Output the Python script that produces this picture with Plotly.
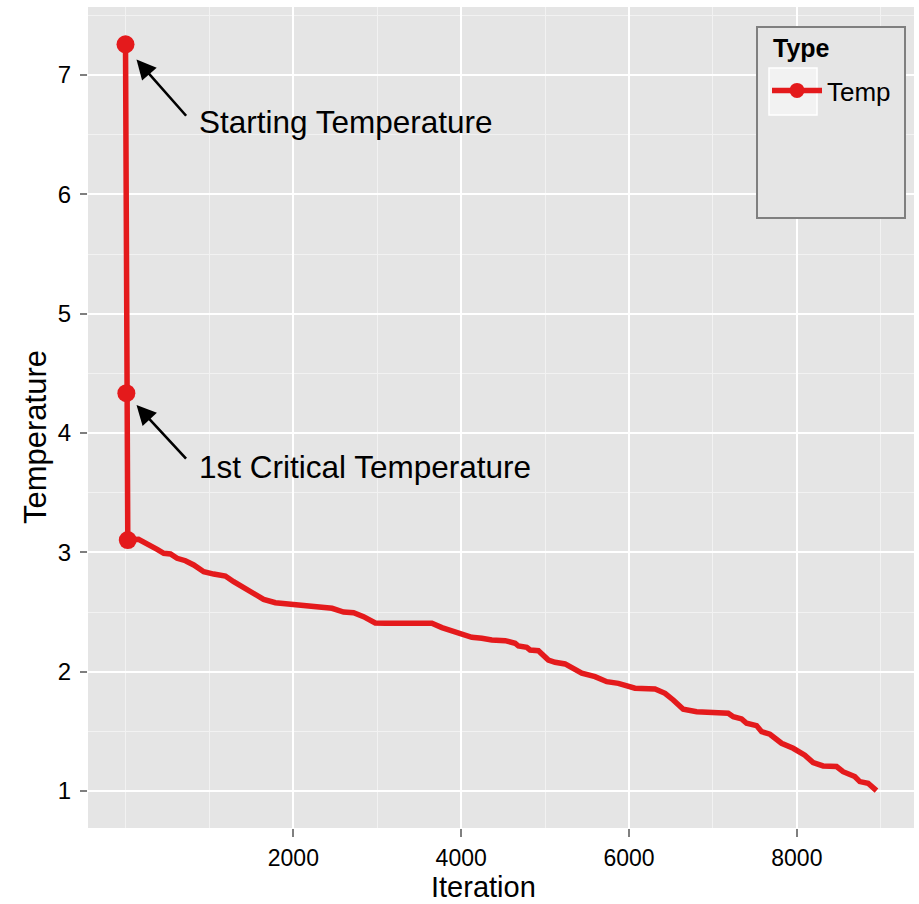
import plotly.graph_objects as go

# Temperature schedule over the annealing run
iteration = [0, 10, 27, 155, 298, 377, 456, 536, 615, 714, 813, 932, 1051, 1190,
             1289, 1429, 1548, 1646, 1786, 1925, 2143, 2461, 2599, 2718, 2837,
             2976, 3095, 3651, 3770, 3929, 4127, 4246, 4365, 4524, 4643, 4682,
             4782, 4821, 4920, 5039, 5119, 5238, 5337, 5437, 5595, 5735, 5873,
             6071, 6310, 6429, 6527, 6646, 6806, 7182, 7242, 7342, 7401, 7520,
             7580, 7679, 7818, 7956, 8095, 8194, 8313, 8473, 8551, 8611, 8690,
             8750, 8849, 8949]
temperature = [7.257, 4.334, 3.103, 3.109, 3.047, 3.025, 2.992, 2.986, 2.950,
               2.930, 2.894, 2.838, 2.818, 2.801, 2.754, 2.698, 2.642, 2.606,
               2.578, 2.567, 2.553, 2.531, 2.500, 2.494, 2.461, 2.408, 2.406,
               2.406, 2.369, 2.330, 2.288, 2.280, 2.265, 2.260, 2.238, 2.215,
               2.204, 2.182, 2.176, 2.098, 2.079, 2.065, 2.020, 1.987, 1.958,
               1.916, 1.902, 1.861, 1.855, 1.819, 1.763, 1.685, 1.665, 1.652,
               1.623, 1.604, 1.568, 1.548, 1.497, 1.476, 1.400, 1.358, 1.300,
               1.238, 1.210, 1.205, 1.162, 1.141, 1.121, 1.079, 1.065, 1.003]

# Highlighted points: start, first critical temperature, end of the drop
key_iteration = [0, 10, 27]
key_temperature = [7.257, 4.334, 3.103]

x_ticks = [2000, 4000, 6000, 8000]
x_minor = [0, 1000, 3000, 5000, 7000, 9000]
y_ticks = [1, 2, 3, 4, 5, 6, 7]
y_minor = [1.5, 2.5, 3.5, 4.5, 5.5, 6.5, 7.5]

RED = "#e41a1c"
FONT = "Liberation Sans, Arial, Helvetica, sans-serif"

W, H = 919, 904
ML, MR, MT, MB = 88, 5, 7, 76
pw, ph = W - ML - MR, H - MT - MB


def px_x(p):
    return (p - ML) / pw


def px_y(p):
    return (H - MB - p) / ph


fig = go.Figure()
fig.add_trace(go.Scatter(x=iteration, y=temperature, mode="lines",
                         line=dict(color=RED, width=5.5), showlegend=False,
                         hoverinfo="skip"))
fig.add_trace(go.Scatter(x=key_iteration, y=key_temperature, mode="markers",
                         marker=dict(color=RED, size=18), showlegend=False))
fig.add_trace(go.Scatter(x=[None], y=[None], mode="lines+markers", name="Temp",
                         line=dict(color=RED, width=5.5),
                         marker=dict(color=RED, size=15)))

# Arrows and labels
arrows = [
    dict(head=(131, 7.13), tail=(738, 6.646)),
    dict(head=(131, 4.234), tail=(738, 3.773)),
]
for a in arrows:
    fig.add_annotation(x=a["head"][0], y=a["head"][1], ax=a["tail"][0], ay=a["tail"][1],
                       xref="x", yref="y", axref="x", ayref="y", text="",
                       showarrow=True, arrowhead=2, arrowsize=1.5, arrowwidth=2.6,
                       arrowcolor="black")
labels = [("Starting Temperature", 857, 6.604), ("1st Critical Temperature", 857, 3.714)]
for txt, lx, ly in labels:
    fig.add_annotation(x=lx, y=ly, xref="x", yref="y", text=txt, showarrow=False,
                       xanchor="left", yanchor="middle",
                       font=dict(family=FONT, size=31.5, color="black"))

# Axis titles
fig.add_annotation(x=px_x(483), y=px_y(887), xref="paper", yref="paper",
                   text="Iteration", showarrow=False, xanchor="center", yanchor="middle",
                   font=dict(family=FONT, size=29, color="black"), borderpad=0)
fig.add_annotation(x=px_x(36), y=px_y(437), xref="paper", yref="paper",
                   text="Temperature", showarrow=False, textangle=-90,
                   xanchor="center", yanchor="middle",
                   font=dict(family=FONT, size=31, color="black"))

# Legend frame, title and key background
fig.add_shape(type="rect", xref="paper", yref="paper",
              x0=px_x(757), x1=px_x(905), y0=px_y(218), y1=px_y(27),
              fillcolor="#e5e5e5", line=dict(color="#7f7f7f", width=2), layer="above")
fig.add_shape(type="rect", xref="paper", yref="paper",
              x0=px_x(769), x1=px_x(817), y0=px_y(115), y1=px_y(68),
              fillcolor="#f2f2f2", line=dict(color="white", width=1.5), layer="above")
fig.add_annotation(x=px_x(771), y=px_y(48), xref="paper", yref="paper",
                   text="<b>Type</b>", showarrow=False, xanchor="left", yanchor="middle",
                   font=dict(family=FONT, size=25, color="black"))

fig.update_layout(
    width=W, height=H,
    margin=dict(l=ML, r=MR, t=MT, b=MB),
    paper_bgcolor="white", plot_bgcolor="#e5e5e5",
    font=dict(family=FONT, color="black"),
    legend=dict(x=px_x(767), y=px_y(67), xanchor="left", yanchor="top",
                bgcolor="rgba(0,0,0,0)", borderwidth=0,
                font=dict(size=26, family=FONT), itemwidth=50),
    showlegend=True,
)
fig.update_xaxes(range=[-447, 9396], tickvals=x_ticks, ticktext=[str(v) for v in x_ticks],
                 showgrid=True, gridcolor="white", gridwidth=2.2, zeroline=False,
                 ticks="outside", ticklen=8, tickwidth=2, tickcolor="#7f7f7f",
                 tickfont=dict(size=23, family=FONT, color="black"),
                 ticklabelstandoff=1,
                 minor=dict(tickvals=x_minor, showgrid=True, gridcolor="#f2f2f2",
                            gridwidth=1.2, ticks=""),
                 showline=False)
fig.update_yaxes(range=[0.690, 7.570], tickvals=y_ticks, ticktext=[str(v) for v in y_ticks],
                 showgrid=True, gridcolor="white", gridwidth=2.2, zeroline=False,
                 ticks="outside", ticklen=7, tickwidth=2, tickcolor="#7f7f7f",
                 tickfont=dict(size=24, family=FONT, color="black"),
                 ticklabelstandoff=4,
                 minor=dict(tickvals=y_minor, showgrid=True, gridcolor="#f2f2f2",
                            gridwidth=1.2, ticks=""),
                 showline=False)

fig.write_html("out.html")
